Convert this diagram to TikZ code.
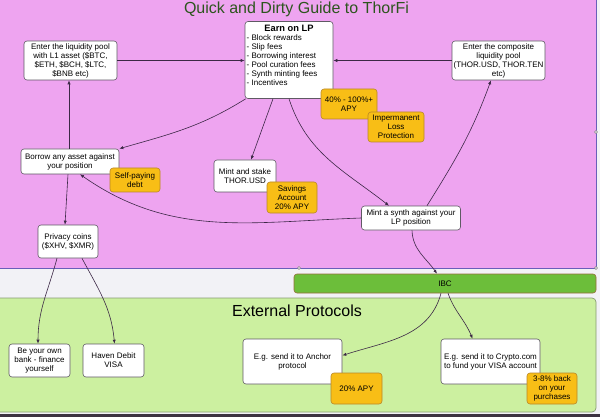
\documentclass[tikz,border=0pt]{standalone}
\usepackage{fontspec}
\setmainfont{Liberation Sans}
\usetikzlibrary{arrows.meta,calc}
\definecolor{pinkbg}{RGB}{238,164,240}
\definecolor{pinkline}{RGB}{105,95,185}
\definecolor{graybg}{RGB}{242,242,246}
\definecolor{greenbg}{RGB}{204,240,160}
\definecolor{greenline}{RGB}{135,155,115}
\definecolor{ibcfill}{RGB}{108,190,58}
\definecolor{ibcline}{RGB}{150,110,60}
\definecolor{tagfill}{RGB}{248,190,22}
\definecolor{tagline}{RGB}{185,135,40}
\definecolor{boxline}{RGB}{95,90,100}
\definecolor{linkcol}{RGB}{60,40,70}
\definecolor{titlecol}{RGB}{45,85,30}
\definecolor{darkband}{RGB}{60,50,65}
\begin{document}
\begin{tikzpicture}[x=1pt,y=-1pt,
  box/.style={draw=boxline, fill=white, rounded corners=3pt, line width=0.6pt, align=center, font=\fontsize{8}{9}\selectfont, inner sep=1pt},
  tagbox/.style={draw=tagline, fill=tagfill, rounded corners=3pt, line width=0.6pt, align=center, font=\fontsize{8}{9}\selectfont, inner sep=1pt},
  link/.style={draw=linkcol, line width=0.6pt, -{Latex[length=4pt,width=3.2pt]}},
  handle/.style={circle, draw=gray, fill=white, line width=0.4pt, inner sep=0pt, minimum size=3pt}]
\useasboundingbox (0,0) rectangle (600,417);
% backgrounds
\fill[graybg] (0,0) rectangle (600,417);
\fill[pinkbg] (0,0) rectangle (596,268);
\draw[pinkline, line width=0.8pt] (0,268) -- (596,268) -- (596,0);
\draw[greenline, fill=greenbg, rounded corners=4pt, line width=0.7pt] (-5,298) rectangle (596,412);
\fill[darkband] (0,414) rectangle (600,417);
\node[handle] (h1) at (299,268) {};
\node[handle] (h2) at (596,268) {};
\node[handle] (h3) at (596,132) {};
% titles
\node[text=titlecol, font=\fontsize{16}{18}\selectfont] (title) at (296.5,9) {Quick and Dirty Guide to ThorFi};
\node[text=black, font=\fontsize{16}{18}\selectfont] (ext) at (297,311) {External Protocols};
% IBC bar
\node[draw=ibcline, fill=ibcfill, rounded corners=3pt, line width=0.6pt, minimum width=302pt, minimum height=19pt, font=\fontsize{8}{9}\selectfont, inner sep=0pt] (ibc) at (445,283.5) {IBC};
% white boxes
\node[box, minimum width=93pt, minimum height=39pt] (l1) at (70.5,60.5) {Enter the liquidity pool\\with L1 asset (\$BTC,\\\$ETH, \$BCH, \$LTC,\\\$BNB etc)};
\node[box, minimum width=88pt, minimum height=77pt] (earn) at (289,60) {};
\node[font=\fontsize{9.3}{10}\selectfont\bfseries, inner sep=0pt] (earnt) at (289,28) {Earn on LP};
\node[anchor=north west, align=left, font=\fontsize{8}{9}\selectfont, inner sep=0pt] (earnl) at (246.5,34.5) {- Block rewards\\- Slip fees\\- Borrowing interest\\- Pool curation fees\\- Synth minting fees\\- Incentives};
\node[box, minimum width=93pt, minimum height=39pt] (comp) at (498.5,60.5) {Enter the composite\\liquidity pool\\(THOR.USD, THOR.TEN\\etc)};
\node[box, minimum width=98pt, minimum height=25pt] (borrow) at (70,161.5) {Borrow any asset against\\your position};
\node[box, minimum width=62pt, minimum height=32pt] (stake) at (245,176) {Mint and stake\\THOR.USD};
\node[box, minimum width=99pt, minimum height=24pt] (synth) at (411,218) {Mint a synth against your\\LP position};
\node[box, minimum width=60pt, minimum height=33pt] (privacy) at (68,241.5) {Privacy coins\\(\$XHV, \$XMR)};
\node[box, minimum width=61pt, minimum height=33pt] (bank) at (39.5,360.5) {Be your own\\bank - finance\\yourself};
\node[box, minimum width=61pt, minimum height=33pt] (haven) at (113.5,360.5) {Haven Debit\\VISA};
\node[box, minimum width=99pt, minimum height=45pt] (anchor) at (292.5,361.5) {E.g. send it to Anchor\\protocol};
\node[box, minimum width=99pt, minimum height=45pt] (crypto) at (490.5,361.5) {E.g. send it to Crypto.com\\to fund your VISA account};
% connectors
\draw[link] (l1.east) -- (earn.west |- l1.east);
\draw[link] (comp.west) -- (earn.east |- comp.west);
\draw[link] ([xshift=-1pt]borrow.north) -- ([xshift=-1.5pt]l1.south);
\draw[link] ([xshift=1pt]earn.south west) to[out=212, in=16] (borrow.north east);
\draw[link] ([xshift=-16pt]earn.south) -- ([xshift=6pt]stake.north);
\draw[link] (earn.south) to[out=-72, in=142] ([xshift=-22pt]synth.north);
\draw[link] ([xshift=16pt]synth.north) to[out=58, in=-110] ([xshift=-7.5pt]comp.south);
\draw[link] (synth.west) to[out=182, in=-35] ([xshift=10pt]borrow.south);
\draw[link] ([xshift=1pt]synth.south) to[out=-88, in=125] ([xshift=-8pt]ibc.north);
\draw[link] ([xshift=-4pt]ibc.south) to[out=-105, in=18] ([yshift=6pt]anchor.east);
\draw[link] ([xshift=3pt]ibc.south) to[out=-70, in=112] ([xshift=-18pt]crypto.north);
\draw[link] ([xshift=-2pt]borrow.south) -- ([xshift=-3pt]privacy.north);
\draw[link] ([xshift=-11pt]privacy.south) to[out=-105, in=90] ([xshift=-1.5pt]bank.north);
\draw[link] ([xshift=14pt]privacy.south) to[out=-62, in=95] ([xshift=1pt]haven.north);
% orange tags
\node[tagbox, minimum width=56pt, minimum height=30pt] (apy40) at (349,104) {40\% - 100\%+\\APY};
\node[tagbox, minimum width=56pt, minimum height=30pt] (ilp) at (396,127) {Impermanent\\Loss\\Protection};
\node[tagbox, minimum width=50pt, minimum height=24pt] (selfpay) at (135,180) {Self-paying\\debt};
\node[tagbox, minimum width=50pt, minimum height=31pt] (savings) at (292,197.5) {Savings\\Account\\20\% APY};
\node[tagbox, minimum width=51pt, minimum height=31pt] (apy20) at (356.5,388.5) {20\% APY};
\node[tagbox, minimum width=50pt, minimum height=31pt] (back) at (552,388.5) {3-8\% back\\on your\\purchases};
\end{tikzpicture}
\end{document}
